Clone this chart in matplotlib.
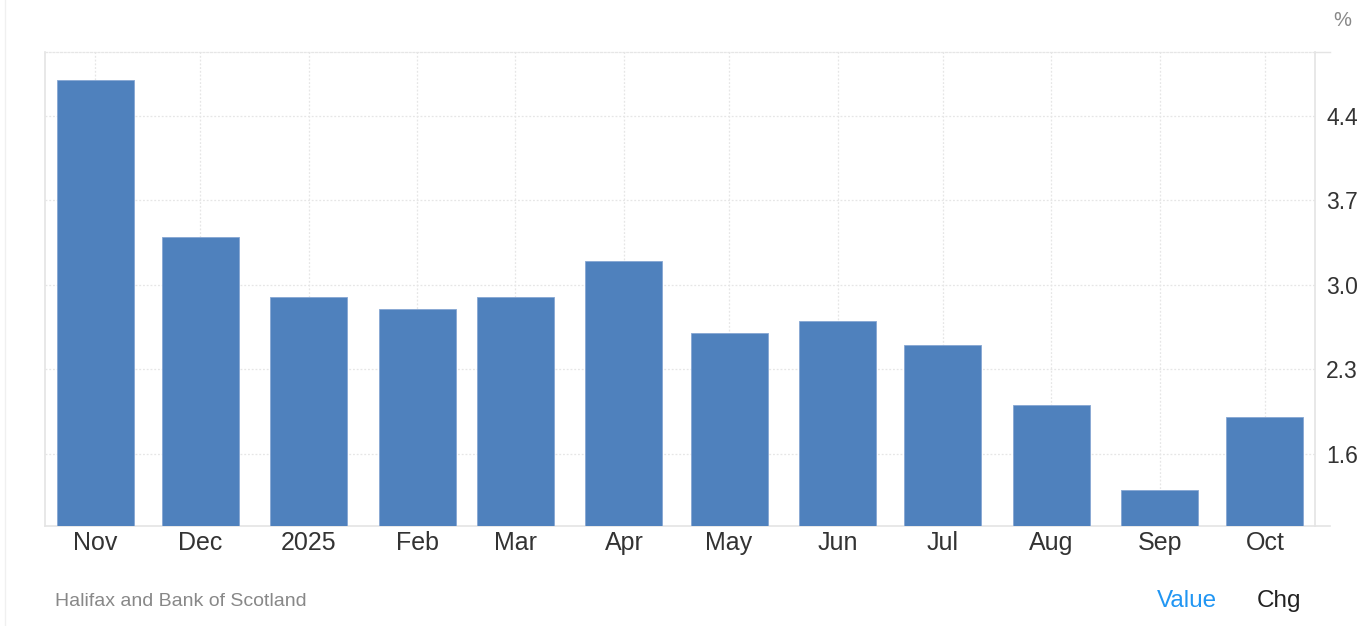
import datetime as dt

import matplotlib.pyplot as plt
import matplotlib.dates as mdates

months = [dt.date(2024, 11, 1), dt.date(2024, 12, 1), dt.date(2025, 1, 1),
          dt.date(2025, 2, 1), dt.date(2025, 3, 1), dt.date(2025, 4, 1),
          dt.date(2025, 5, 1), dt.date(2025, 6, 1), dt.date(2025, 7, 1),
          dt.date(2025, 8, 1), dt.date(2025, 9, 1), dt.date(2025, 10, 1)]
month_labels = ["Nov", "Dec", "2025", "Feb", "Mar", "Apr", "May", "Jun",
                "Jul", "Aug", "Sep", "Oct"]
values = [4.7, 3.4, 2.9, 2.8, 2.9, 3.2, 2.6, 2.7, 2.5, 2.0, 1.3, 1.9]
y_ticks = [1.6, 2.3, 3.0, 3.7, 4.4]

bar_color = "#4f81bd"
grid_color = "#e6e6e6"
text_color = "#333333"


def main():
    plt.rcParams["font.family"] = ["Liberation Sans", "DejaVu Sans"]

    fig = plt.figure(figsize=(13.7, 6.26), dpi=100)
    ax = fig.add_axes([45 / 1370, 100 / 626, 1270 / 1370, 474 / 626])

    x = mdates.date2num(months)
    ax.bar(x, values, width=22, color=bar_color, edgecolor="#86a6d3",
           linewidth=0.6, zorder=3)

    ax.set_xlim(x[0] - 14.3, x[-1] + 14.3)
    ax.set_ylim(1.0, 4.93)

    ax.set_xticks(x)
    ax.set_xticklabels(month_labels)
    ax.set_yticks(y_ticks)
    ax.set_yticklabels([f"{v:.1f}" for v in y_ticks])
    ax.yaxis.tick_right()
    ax.tick_params(axis="x", length=0, pad=3.5, labelsize=18,
                   labelcolor=text_color)
    ax.tick_params(axis="y", length=0, pad=8, labelsize=16.5,
                   labelcolor=text_color)

    ax.grid(True, color=grid_color, linestyle=(0, (1.5, 1.5)),
            linewidth=0.9, zorder=0)

    for side in ["left", "right", "bottom"]:
        ax.spines[side].set_color("#e4e4e4")
        ax.spines[side].set_linewidth(1.2)
    ax.spines["top"].set_color(grid_color)
    ax.spines["top"].set_linestyle((0, (1.5, 1.5)))
    ax.spines["top"].set_linewidth(0.9)

    # small stubs past the right spine
    fig.add_artist(plt.Line2D([1315 / 1370, 1330 / 1370],
                              [100 / 626, 100 / 626],
                              color="#e4e4e4", lw=1.2))
    fig.add_artist(plt.Line2D([1315 / 1370, 1330 / 1370],
                              [574 / 626, 574 / 626],
                              color="#e4e4e4", lw=1.0))
    # card border on the left
    fig.add_artist(plt.Line2D([5 / 1370, 5 / 1370], [0, 1],
                              color="#f0f0f0", lw=1.0))

    fig.text(1342 / 1370, 1 - 21 / 626, "%", fontsize=14.5, color="#888888",
             ha="center", va="center")
    fig.text(55 / 1370, 1 - 601 / 626, "Halifax and Bank of Scotland",
             fontsize=14, color="#888888", ha="left", va="center")
    fig.text(1187 / 1370, 1 - 601 / 626, "Value", fontsize=17.5,
             color="#2196f3", ha="center", va="center")
    fig.text(1279 / 1370, 1 - 601 / 626, "Chg", fontsize=17.5,
             color="#222222", ha="center", va="center")

    fig.savefig("out.png", dpi=100)


if __name__ == '__main__':
    main()
